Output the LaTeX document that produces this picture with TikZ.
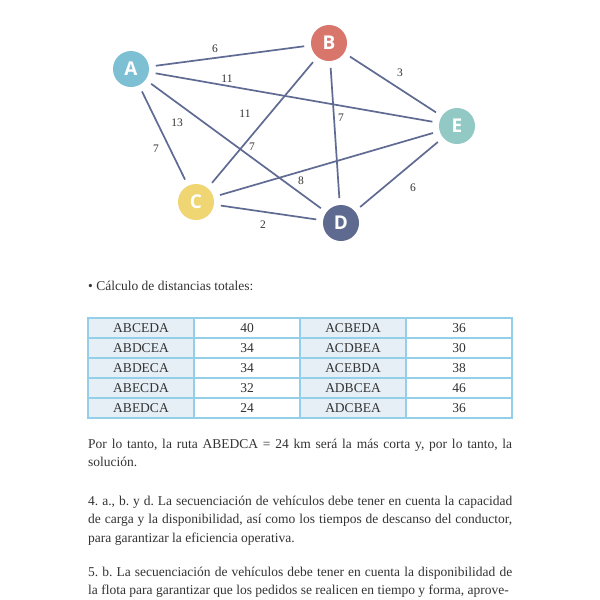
\documentclass[tikz,border=0pt]{standalone}
\usepackage{fontspec}
\setmainfont{Liberation Serif}
\newfontfamily\lettersans{Open Sans}
\usetikzlibrary{positioning}
\frenchspacing
\definecolor{cityA}{HTML}{7DBFD3}
\definecolor{cityB}{HTML}{D8766B}
\definecolor{cityC}{HTML}{F0D573}
\definecolor{cityD}{HTML}{5E6A8F}
\definecolor{cityE}{HTML}{93C9C4}
\definecolor{roadblue}{HTML}{5F6B92}
\definecolor{gridblue}{HTML}{93CFE8}
\definecolor{cellfill}{HTML}{E6EFF5}
\definecolor{bodygrey}{HTML}{333333}

\begin{document}
\begin{tikzpicture}[x=1pt,y=-1pt,
  city/.style={circle,minimum size=36pt,inner sep=0pt,outer sep=7pt,text=white,font=\lettersans\bfseries\fontsize{19}{19}\selectfont},
  road/.style={draw=roadblue,line width=1.7pt},
  dist/.style={inner sep=0pt,text=bodygrey,font=\fontsize{11.5}{11.5}\selectfont},
  cell/.style={draw=gridblue,line width=1.2pt,minimum width=106pt,minimum height=20pt,inner sep=0pt,text=bodygrey,font=\fontsize{13.5}{13.5}\selectfont},
  para/.style={anchor=north west,inner sep=0pt,text width=424pt,align=justify,text=bodygrey,font=\fontsize{13.5}{18.3}\selectfont}]
\useasboundingbox[fill=white] (0,0) rectangle (600,600);
% cities
\node[city,fill=cityA] (A) at (131,69) {A};
\node[city,fill=cityB] (B) at (329,43) {B};
\node[city,fill=cityC] (C) at (196,202) {C};
\node[city,fill=cityD] (D) at (341,223) {D};
\node[city,fill=cityE] (E) at (457,126) {E};
\foreach \a/\b in {A/B,A/E,A/C,A/D,B/C,B/D,B/E,C/E,C/D,D/E}{\draw[road](\a)--(\b);}
% distances
\node[dist] (dAB) at (215,49) {6};
\node[dist] (dAE) at (227,79) {11};
\node[dist] (dBE) at (400,73) {3};
\node[dist] (dAD) at (177,123) {13};
\node[dist] (dBC) at (245,114) {11};
\node[dist] (dBD) at (341,118) {7};
\node[dist] (dAC) at (156,149) {7};
\node[dist] (dCB) at (252,147) {7};
\node[dist] (dCE) at (301,181) {8};
\node[dist] (dCD) at (263,225) {2};
\node[dist] (dDE) at (413,188) {6};
% table
\node[anchor=base west,inner sep=0pt,text=bodygrey,font=\fontsize{13.5}{13.5}\selectfont] (title) at (88,290) {\textbullet\ Cálculo de distancias totales:};
\foreach \ra/\da/\rb/\db [count=\i from 0] in {ABCEDA/40/ACBEDA/36,ABDCEA/34/ACDBEA/30,ABDECA/34/ACEBDA/38,ABECDA/32/ADBCEA/46,ABEDCA/24/ADCBEA/36}{
  \node[cell,fill=cellfill] (r\i a) at (141,{328+20*\i}) {\ra};
  \node[cell,fill=white] (r\i b) at (247,{328+20*\i}) {\da};
  \node[cell,fill=cellfill] (r\i c) at (353,{328+20*\i}) {\rb};
  \node[cell,fill=white] (r\i d) at (459,{328+20*\i}) {\db};
}
% text
\node[para] (p1) at (88,439) {Por lo tanto, la ruta ABEDCA = 24~km será la más corta y, por lo tanto, la\linebreak solución.};
\node[para] (p2) at (88,496) {4. a., b. y d. La secuenciación de vehículos debe tener en cuenta la capacidad\linebreak de carga y la disponibilidad, así como los tiempos de descanso del conductor,\linebreak para garantizar la eficiencia operativa.};
\node[para] (p3) at (88,567) {\parfillskip=0pt 5. b. La secuenciación de vehículos debe tener en cuenta la disponibilidad de\linebreak la flota para garantizar que los pedidos se realicen en tiempo y forma, aprove-};
\end{tikzpicture}
\end{document}
